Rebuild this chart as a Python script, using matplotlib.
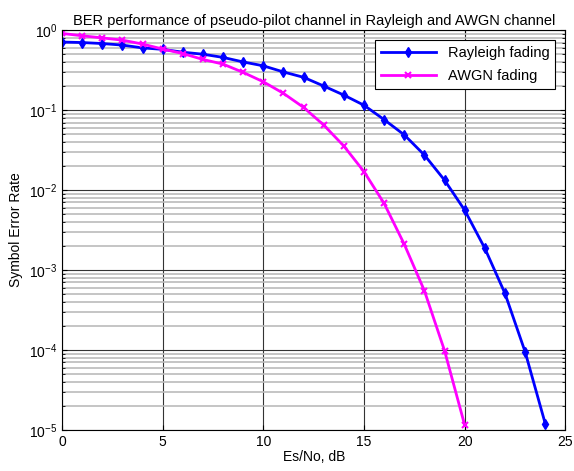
import matplotlib
matplotlib.use('Agg')
import matplotlib.pyplot as plt
import numpy as np
from matplotlib.ticker import LogLocator, MultipleLocator, NullFormatter

plt.rcParams['font.family'] = ['Liberation Sans', 'DejaVu Sans']
plt.rcParams['font.size'] = 10

# Es/No (dB)
snr_rayleigh = list(range(0, 25))
ser_rayleigh = [0.71, 0.70, 0.68, 0.65, 0.60, 0.575, 0.53, 0.50, 0.456, 0.40,
                0.358, 0.30, 0.257, 0.20, 0.154, 0.115, 0.076, 0.049, 0.0274,
                0.0133, 0.0056, 0.00187, 5.1e-4, 9.5e-5, 1.2e-5]

snr_awgn = list(range(0, 21))
ser_awgn = [0.91, 0.85, 0.80, 0.75, 0.67, 0.58, 0.51, 0.43, 0.376, 0.296,
            0.226, 0.162, 0.108, 0.065, 0.0355, 0.017, 0.0068, 0.0021,
            5.5e-4, 9.8e-5, 1.15e-5]

fig = plt.figure(figsize=(5.74, 4.71), dpi=100)
ax = fig.add_axes([0.108, 0.087, 0.877, 0.849])

ax.semilogy(snr_rayleigh, ser_rayleigh, color='#0000ff', lw=2, marker='d',
            markersize=5, label='Rayleigh fading')
ax.semilogy(snr_awgn, ser_awgn, color='#ff00ff', lw=2, marker='x',
            markersize=5, mew=1.5, label='AWGN fading')

ax.set_xlim(0, 25)
ax.set_ylim(1e-5, 1)
ax.xaxis.set_major_locator(MultipleLocator(5))
ax.yaxis.set_major_locator(LogLocator(base=10, numticks=10))
ax.yaxis.set_minor_locator(LogLocator(base=10, subs=np.arange(2, 10), numticks=10))
ax.yaxis.set_minor_formatter(NullFormatter())

ax.grid(True, which='major', color='#333333', lw=0.8)
ax.grid(True, which='minor', axis='y', color='#bbbbbb', lw=1.2)
ax.set_axisbelow(True)
ax.tick_params(direction='in', which='both', top=True, right=True, labelsize=10)

ax.set_title('BER performance of pseudo-pilot channel in Rayleigh and AWGN channel',
             fontsize=10.5, pad=4)
ax.set_xlabel('Es/No, dB', fontsize=10, labelpad=1)
ax.set_ylabel('Symbol Error Rate', fontsize=10)

leg = ax.legend(loc='upper right', fancybox=False, edgecolor='black',
                framealpha=1, fontsize=10.5, handlelength=3.8,
                borderaxespad=0.7, labelspacing=0.6)
leg.get_frame().set_linewidth(0.8)

fig.savefig('out.png', dpi=100)
